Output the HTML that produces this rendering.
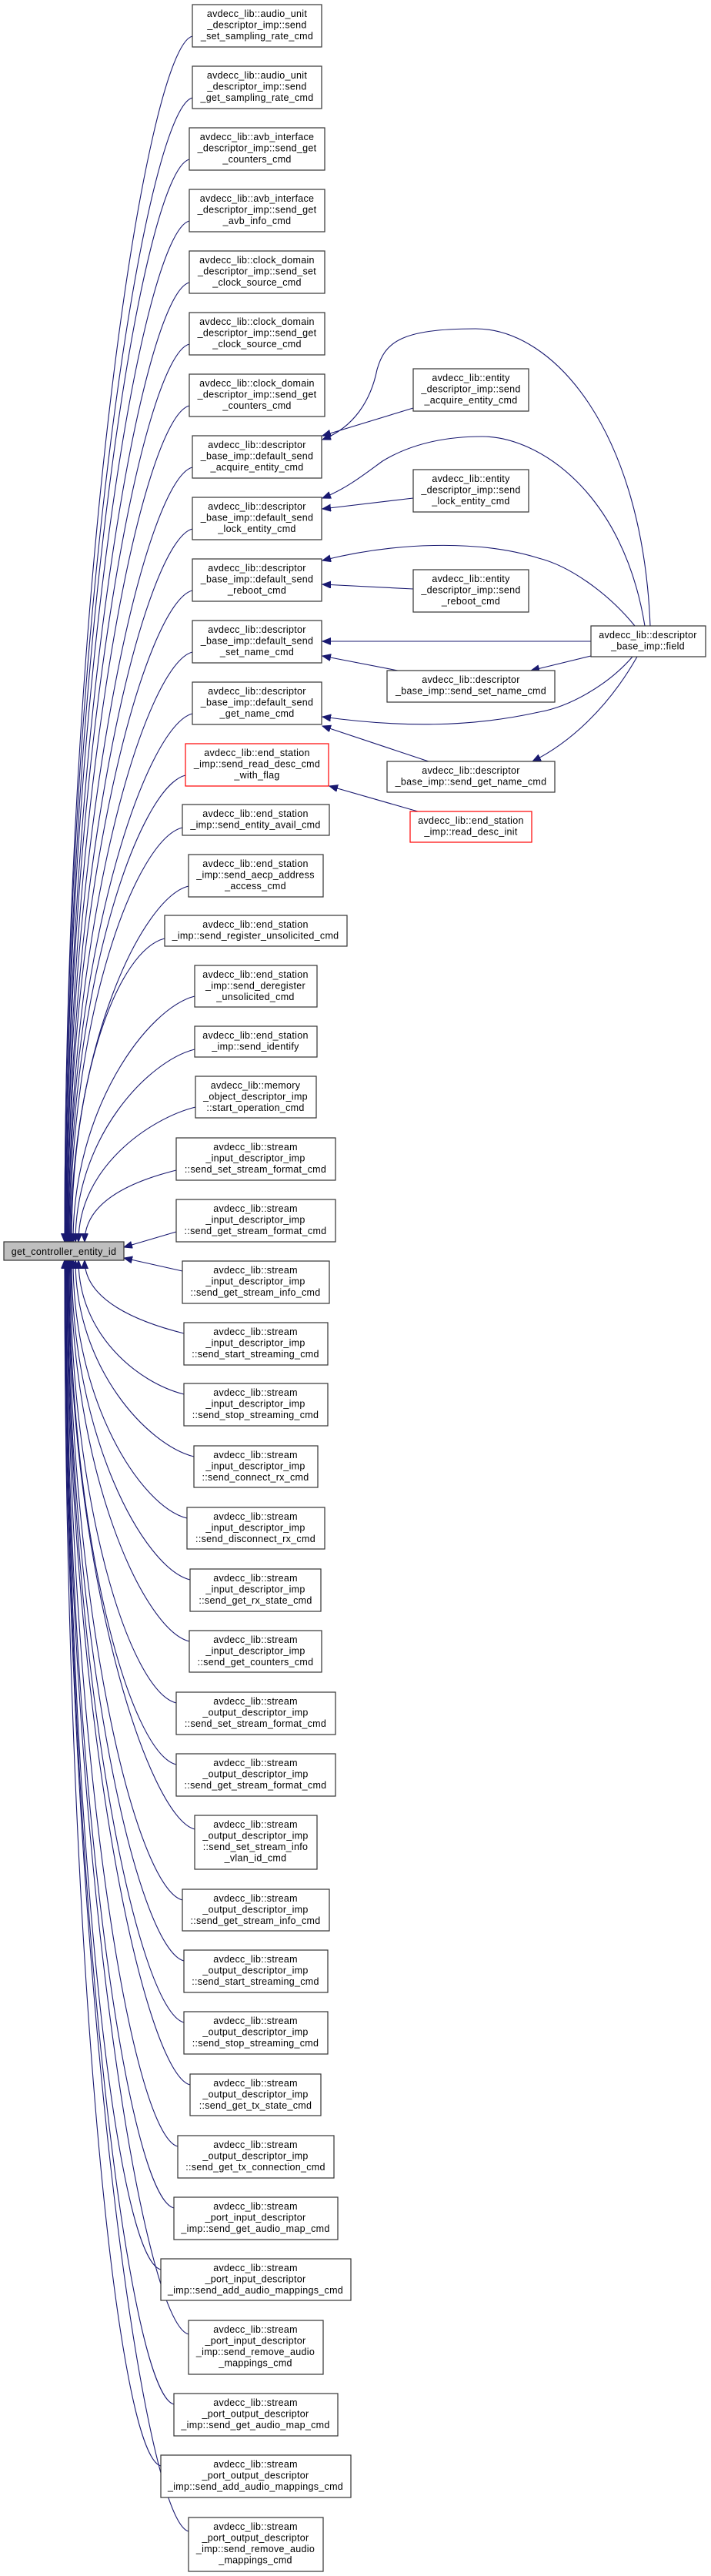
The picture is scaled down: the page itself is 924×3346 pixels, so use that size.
<!DOCTYPE html>
<html><head><meta charset="utf-8"><style>
html,body{margin:0;padding:0;background:#fff;}
svg{display:block;}
text{font-family:"Liberation Sans",Arial,sans-serif;font-size:12.5px;letter-spacing:0.3px;fill:#000;text-anchor:middle;}
.b{fill:#fff;stroke:#333;stroke-width:1.2;}
.r{fill:#fff;stroke:#f00;stroke-width:1.2;}
.e{fill:none;stroke:#191970;stroke-width:1.1;}
</style></head><body>
<svg width="924" height="3346" viewBox="0 0 924 3346" xmlns="http://www.w3.org/2000/svg">
<defs><marker id="a" markerUnits="userSpaceOnUse" markerWidth="12" markerHeight="10" refX="11" refY="4.5" orient="auto"><path d="M0,0 L11,4.5 L0,9 z" fill="#191970" stroke="#191970"/></marker></defs>
<g class="e" marker-end="url(#a)">
<path d="M250,47 C190,62 84,752 84,1613"/>
<path d="M250,127 C190,142 84,796 84,1613"/>
<path d="M246,207 C186,222 85,840 85,1613"/>
<path d="M246,287 C186,302 85,884 85,1613"/>
<path d="M246,367 C186,382 86,928 86,1613"/>
<path d="M246,447 C186,462 86,972 86,1613"/>
<path d="M246,527 C186,542 87,1016 87,1613"/>
<path d="M250,607 C190,622 87,1060 87,1613"/>
<path d="M250,687 C190,702 88,1104 88,1613"/>
<path d="M250,767 C190,782 88,1148 88,1613"/>
<path d="M250,847 C190,862 89,1192 89,1613"/>
<path d="M250,927 C190,942 89,1236 89,1613"/>
<path d="M241,1007 C181,1022 90,1280 90,1613"/>
<path d="M237,1075 C177,1090 91,1317 91,1613"/>
<path d="M245,1151 C185,1166 92,1359 92,1613"/>
<path d="M214,1219 C154,1234 93,1396 93,1613"/>
<path d="M253,1294 C193,1309 95,1438 95,1613"/>
<path d="M253,1363 C193,1378 98,1476 98,1613"/>
<path d="M254,1438 C194,1453 102,1517 102,1613"/>
<path d="M229,1520 C169,1535 110,1562 110,1613"/>
<path d="M229,1600 L161,1620"/>
<path d="M237,1651 L161,1634"/>
<path d="M239,1732 C179,1717 110,1689 110,1637"/>
<path d="M239,1811 C179,1796 102,1733 102,1637"/>
<path d="M252,1892 C192,1877 98,1777 98,1637"/>
<path d="M243,1972 C183,1957 95,1821 95,1637"/>
<path d="M247,2052 C187,2037 93,1865 93,1637"/>
<path d="M246,2132 C186,2117 92,1909 92,1637"/>
<path d="M229,2212 C169,2197 91,1953 91,1637"/>
<path d="M229,2292 C169,2277 90,1997 90,1637"/>
<path d="M253,2376 C193,2361 89,2043 89,1637"/>
<path d="M237,2468 C177,2453 89,2094 89,1637"/>
<path d="M239,2547 C179,2532 88,2137 88,1637"/>
<path d="M239,2627 C179,2612 88,2182 88,1637"/>
<path d="M247,2708 C187,2693 87,2226 87,1637"/>
<path d="M231,2788 C171,2773 87,2270 87,1637"/>
<path d="M226,2868 C166,2853 86,2314 86,1637"/>
<path d="M209,2948 C149,2933 86,2358 86,1637"/>
<path d="M245,3032 C185,3017 85,2404 85,1637"/>
<path d="M226,3123 C166,3108 85,2454 85,1637"/>
<path d="M209,3203 C149,3188 84,2498 84,1637"/>
<path d="M245,3288 C185,3273 84,2545 84,1637"/>
<path d="M845,813 C835,560 720,427 618,427 C520,427 500,445 490,480 C482,520 460,555 419,571"/>
<path d="M537,530 L419,566"/>
<path d="M838,813 C810,640 700,567 627,567 C560,567 520,585 497,599 C475,615 450,635 419,647"/>
<path d="M537,647 L419,661"/>
<path d="M825,813 C790,770 740,735 700,725 C620,700 510,705 419,728"/>
<path d="M537,765 L419,759"/>
<path d="M768,833 L419,833"/>
<path d="M768,852 L690,871"/>
<path d="M517,871 L419,852"/>
<path d="M822,853 C790,890 740,918 700,925 C610,945 520,945 419,931"/>
<path d="M557,989 L419,943"/>
<path d="M828,853 C790,920 740,965 692,989"/>
<path d="M543,1054 L428,1021"/>
</g>

<rect x="5" y="1613" width="156" height="24" fill="#bfbfbf" stroke="#333" stroke-width="1.2"/>
<text x="83" y="1630">get_controller_entity_id</text>

<rect class="b" x="250" y="6" width="168" height="55"/><text x="334" y="22">avdecc_lib::audio_unit<tspan x="334" dy="14.5">_descriptor_imp::send</tspan><tspan x="334" dy="14.5">_set_sampling_rate_cmd</tspan></text>
<rect class="b" x="250" y="86" width="168" height="55"/><text x="334" y="102">avdecc_lib::audio_unit<tspan x="334" dy="14.5">_descriptor_imp::send</tspan><tspan x="334" dy="14.5">_get_sampling_rate_cmd</tspan></text>
<rect class="b" x="246" y="166" width="176" height="55"/><text x="334" y="182">avdecc_lib::avb_interface<tspan x="334" dy="14.5">_descriptor_imp::send_get</tspan><tspan x="334" dy="14.5">_counters_cmd</tspan></text>
<rect class="b" x="246" y="246" width="176" height="55"/><text x="334" y="262">avdecc_lib::avb_interface<tspan x="334" dy="14.5">_descriptor_imp::send_get</tspan><tspan x="334" dy="14.5">_avb_info_cmd</tspan></text>
<rect class="b" x="246" y="326" width="176" height="55"/><text x="334" y="342">avdecc_lib::clock_domain<tspan x="334" dy="14.5">_descriptor_imp::send_set</tspan><tspan x="334" dy="14.5">_clock_source_cmd</tspan></text>
<rect class="b" x="246" y="406" width="176" height="55"/><text x="334" y="422">avdecc_lib::clock_domain<tspan x="334" dy="14.5">_descriptor_imp::send_get</tspan><tspan x="334" dy="14.5">_clock_source_cmd</tspan></text>
<rect class="b" x="246" y="486" width="176" height="55"/><text x="334" y="502">avdecc_lib::clock_domain<tspan x="334" dy="14.5">_descriptor_imp::send_get</tspan><tspan x="334" dy="14.5">_counters_cmd</tspan></text>
<rect class="b" x="250" y="566" width="168" height="55"/><text x="334" y="582">avdecc_lib::descriptor<tspan x="334" dy="14.5">_base_imp::default_send</tspan><tspan x="334" dy="14.5">_acquire_entity_cmd</tspan></text>
<rect class="b" x="250" y="646" width="168" height="55"/><text x="334" y="662">avdecc_lib::descriptor<tspan x="334" dy="14.5">_base_imp::default_send</tspan><tspan x="334" dy="14.5">_lock_entity_cmd</tspan></text>
<rect class="b" x="250" y="726" width="168" height="55"/><text x="334" y="742">avdecc_lib::descriptor<tspan x="334" dy="14.5">_base_imp::default_send</tspan><tspan x="334" dy="14.5">_reboot_cmd</tspan></text>
<rect class="b" x="250" y="806" width="168" height="55"/><text x="334" y="822">avdecc_lib::descriptor<tspan x="334" dy="14.5">_base_imp::default_send</tspan><tspan x="334" dy="14.5">_set_name_cmd</tspan></text>
<rect class="b" x="250" y="886" width="168" height="55"/><text x="334" y="902">avdecc_lib::descriptor<tspan x="334" dy="14.5">_base_imp::default_send</tspan><tspan x="334" dy="14.5">_get_name_cmd</tspan></text>
<rect class="r" x="241" y="966" width="186" height="55"/><text x="334" y="982">avdecc_lib::end_station<tspan x="334" dy="14.5">_imp::send_read_desc_cmd</tspan><tspan x="334" dy="14.5">_with_flag</tspan></text>
<rect class="b" x="237" y="1045" width="191" height="40"/><text x="332" y="1061">avdecc_lib::end_station<tspan x="332" dy="14.5">_imp::send_entity_avail_cmd</tspan></text>
<rect class="b" x="245" y="1110" width="175" height="55"/><text x="332" y="1126">avdecc_lib::end_station<tspan x="332" dy="14.5">_imp::send_aecp_address</tspan><tspan x="332" dy="14.5">_access_cmd</tspan></text>
<rect class="b" x="214" y="1189" width="237" height="40"/><text x="332" y="1205">avdecc_lib::end_station<tspan x="332" dy="14.5">_imp::send_register_unsolicited_cmd</tspan></text>
<rect class="b" x="253" y="1254" width="159" height="54"/><text x="332" y="1270">avdecc_lib::end_station<tspan x="332" dy="14.5">_imp::send_deregister</tspan><tspan x="332" dy="14.5">_unsolicited_cmd</tspan></text>
<rect class="b" x="253" y="1333" width="159" height="40"/><text x="332" y="1349">avdecc_lib::end_station<tspan x="332" dy="14.5">_imp::send_identify</tspan></text>
<rect class="b" x="254" y="1398" width="157" height="54"/><text x="332" y="1414">avdecc_lib::memory<tspan x="332" dy="14.5">_object_descriptor_imp</tspan><tspan x="332" dy="14.5">::start_operation_cmd</tspan></text>
<rect class="b" x="229" y="1478" width="207" height="55"/><text x="332" y="1494">avdecc_lib::stream<tspan x="332" dy="14.5">_input_descriptor_imp</tspan><tspan x="332" dy="14.5">::send_set_stream_format_cmd</tspan></text>
<rect class="b" x="229" y="1558" width="207" height="55"/><text x="332" y="1574">avdecc_lib::stream<tspan x="332" dy="14.5">_input_descriptor_imp</tspan><tspan x="332" dy="14.5">::send_get_stream_format_cmd</tspan></text>
<rect class="b" x="237" y="1638" width="191" height="55"/><text x="332" y="1654">avdecc_lib::stream<tspan x="332" dy="14.5">_input_descriptor_imp</tspan><tspan x="332" dy="14.5">::send_get_stream_info_cmd</tspan></text>
<rect class="b" x="239" y="1718" width="187" height="55"/><text x="332" y="1734">avdecc_lib::stream<tspan x="332" dy="14.5">_input_descriptor_imp</tspan><tspan x="332" dy="14.5">::send_start_streaming_cmd</tspan></text>
<rect class="b" x="239" y="1797" width="187" height="55"/><text x="332" y="1813">avdecc_lib::stream<tspan x="332" dy="14.5">_input_descriptor_imp</tspan><tspan x="332" dy="14.5">::send_stop_streaming_cmd</tspan></text>
<rect class="b" x="252" y="1878" width="161" height="54"/><text x="332" y="1894">avdecc_lib::stream<tspan x="332" dy="14.5">_input_descriptor_imp</tspan><tspan x="332" dy="14.5">::send_connect_rx_cmd</tspan></text>
<rect class="b" x="243" y="1958" width="179" height="54"/><text x="332" y="1974">avdecc_lib::stream<tspan x="332" dy="14.5">_input_descriptor_imp</tspan><tspan x="332" dy="14.5">::send_disconnect_rx_cmd</tspan></text>
<rect class="b" x="247" y="2038" width="170" height="55"/><text x="332" y="2054">avdecc_lib::stream<tspan x="332" dy="14.5">_input_descriptor_imp</tspan><tspan x="332" dy="14.5">::send_get_rx_state_cmd</tspan></text>
<rect class="b" x="246" y="2118" width="172" height="54"/><text x="332" y="2134">avdecc_lib::stream<tspan x="332" dy="14.5">_input_descriptor_imp</tspan><tspan x="332" dy="14.5">::send_get_counters_cmd</tspan></text>
<rect class="b" x="229" y="2198" width="207" height="55"/><text x="332" y="2214">avdecc_lib::stream<tspan x="332" dy="14.5">_output_descriptor_imp</tspan><tspan x="332" dy="14.5">::send_set_stream_format_cmd</tspan></text>
<rect class="b" x="229" y="2278" width="207" height="55"/><text x="332" y="2294">avdecc_lib::stream<tspan x="332" dy="14.5">_output_descriptor_imp</tspan><tspan x="332" dy="14.5">::send_get_stream_format_cmd</tspan></text>
<rect class="b" x="253" y="2358" width="159" height="70"/><text x="332" y="2374">avdecc_lib::stream<tspan x="332" dy="14.5">_output_descriptor_imp</tspan><tspan x="332" dy="14.5">::send_set_stream_info</tspan><tspan x="332" dy="14.5">_vlan_id_cmd</tspan></text>
<rect class="b" x="237" y="2454" width="191" height="54"/><text x="332" y="2470">avdecc_lib::stream<tspan x="332" dy="14.5">_output_descriptor_imp</tspan><tspan x="332" dy="14.5">::send_get_stream_info_cmd</tspan></text>
<rect class="b" x="239" y="2533" width="187" height="55"/><text x="332" y="2549">avdecc_lib::stream<tspan x="332" dy="14.5">_output_descriptor_imp</tspan><tspan x="332" dy="14.5">::send_start_streaming_cmd</tspan></text>
<rect class="b" x="239" y="2613" width="187" height="55"/><text x="332" y="2629">avdecc_lib::stream<tspan x="332" dy="14.5">_output_descriptor_imp</tspan><tspan x="332" dy="14.5">::send_stop_streaming_cmd</tspan></text>
<rect class="b" x="247" y="2694" width="170" height="54"/><text x="332" y="2710">avdecc_lib::stream<tspan x="332" dy="14.5">_output_descriptor_imp</tspan><tspan x="332" dy="14.5">::send_get_tx_state_cmd</tspan></text>
<rect class="b" x="231" y="2774" width="203" height="55"/><text x="332" y="2790">avdecc_lib::stream<tspan x="332" dy="14.5">_output_descriptor_imp</tspan><tspan x="332" dy="14.5">::send_get_tx_connection_cmd</tspan></text>
<rect class="b" x="226" y="2854" width="213" height="55"/><text x="332" y="2870">avdecc_lib::stream<tspan x="332" dy="14.5">_port_input_descriptor</tspan><tspan x="332" dy="14.5">_imp::send_get_audio_map_cmd</tspan></text>
<rect class="b" x="209" y="2934" width="247" height="54"/><text x="332" y="2950">avdecc_lib::stream<tspan x="332" dy="14.5">_port_input_descriptor</tspan><tspan x="332" dy="14.5">_imp::send_add_audio_mappings_cmd</tspan></text>
<rect class="b" x="245" y="3014" width="175" height="70"/><text x="332" y="3030">avdecc_lib::stream<tspan x="332" dy="14.5">_port_input_descriptor</tspan><tspan x="332" dy="14.5">_imp::send_remove_audio</tspan><tspan x="332" dy="14.5">_mappings_cmd</tspan></text>
<rect class="b" x="226" y="3109" width="213" height="55"/><text x="332" y="3125">avdecc_lib::stream<tspan x="332" dy="14.5">_port_output_descriptor</tspan><tspan x="332" dy="14.5">_imp::send_get_audio_map_cmd</tspan></text>
<rect class="b" x="209" y="3189" width="247" height="55"/><text x="332" y="3205">avdecc_lib::stream<tspan x="332" dy="14.5">_port_output_descriptor</tspan><tspan x="332" dy="14.5">_imp::send_add_audio_mappings_cmd</tspan></text>
<rect class="b" x="245" y="3270" width="175" height="70"/><text x="332" y="3286">avdecc_lib::stream<tspan x="332" dy="14.5">_port_output_descriptor</tspan><tspan x="332" dy="14.5">_imp::send_remove_audio</tspan><tspan x="332" dy="14.5">_mappings_cmd</tspan></text>

<rect class="b" x="537" y="479" width="150" height="55"/><text x="612" y="495">avdecc_lib::entity<tspan x="612" dy="14.5">_descriptor_imp::send</tspan><tspan x="612" dy="14.5">_acquire_entity_cmd</tspan></text>
<rect class="b" x="537" y="610" width="150" height="55"/><text x="612" y="626">avdecc_lib::entity<tspan x="612" dy="14.5">_descriptor_imp::send</tspan><tspan x="612" dy="14.5">_lock_entity_cmd</tspan></text>
<rect class="b" x="537" y="740" width="150" height="55"/><text x="612" y="756">avdecc_lib::entity<tspan x="612" dy="14.5">_descriptor_imp::send</tspan><tspan x="612" dy="14.5">_reboot_cmd</tspan></text>
<rect class="b" x="768" y="813" width="149" height="40"/><text x="842" y="829">avdecc_lib::descriptor<tspan x="842" dy="14.5">_base_imp::field</tspan></text>
<rect class="b" x="503" y="871" width="218" height="41"/><text x="612" y="887">avdecc_lib::descriptor<tspan x="612" dy="14.5">_base_imp::send_set_name_cmd</tspan></text>
<rect class="b" x="503" y="989" width="218" height="40"/><text x="612" y="1005">avdecc_lib::descriptor<tspan x="612" dy="14.5">_base_imp::send_get_name_cmd</tspan></text>
<rect class="r" x="533" y="1054" width="158" height="40"/><text x="612" y="1070">avdecc_lib::end_station<tspan x="612" dy="14.5">_imp::read_desc_init</tspan></text>
</svg>
</body></html>
